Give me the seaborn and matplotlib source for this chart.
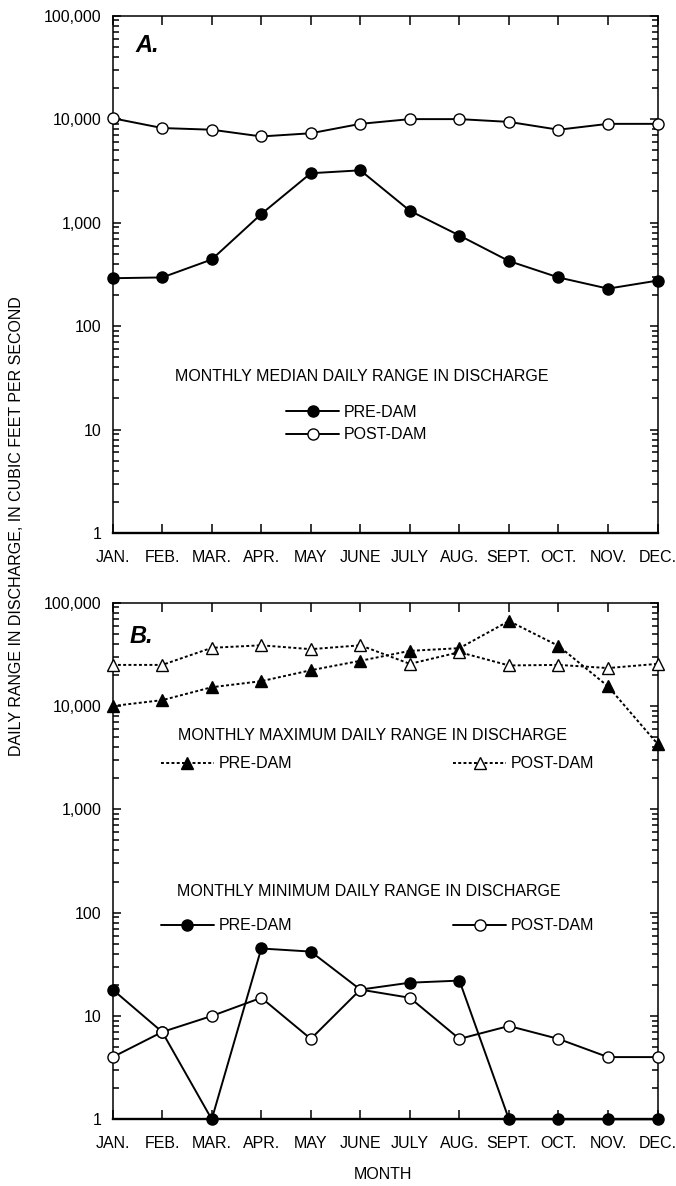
import matplotlib
matplotlib.use("Agg")
import matplotlib.pyplot as plt
import seaborn as sns
import pandas as pd

# Monthly values (cubic feet per second)
months = ["JAN.", "FEB.", "MAR.", "APR.", "MAY", "JUNE", "JULY", "AUG.",
          "SEPT.", "OCT.", "NOV.", "DEC."]
median_pre = [290, 295, 440, 1210, 3000, 3200, 1300, 750, 425, 295, 230, 275]
median_post = [10200, 8200, 7900, 6800, 7300, 9000, 10000, 10000, 9400, 7900, 9000, 9000]
max_pre = [10000, 11400, 15200, 17400, 22200, 27400, 34200, 36300, 66500, 38200, 15500, 4300]
max_post = [25000, 25000, 36600, 38700, 35500, 38700, 25600, 33200, 24700, 25000, 23300, 25600]
min_pre = [18, 7, 1, 45, 42, 18, 21, 22, 1, 1, 1, 1]
min_post = [4, 7, 10, 15, 6, 18, 15, 6, 8, 6, 4, 4]

ytick_vals = [1, 10, 100, 1000, 10000, 100000]
ytick_labels = ["1", "10", "100", "1,000", "10,000", "100,000"]

sns.set_style("ticks")
plt.rcParams["font.family"] = ["Liberation Sans", "DejaVu Sans"]
plt.rcParams["font.size"] = 11.5
for key in ["text.color", "axes.edgecolor", "axes.labelcolor",
            "xtick.color", "ytick.color"]:
    plt.rcParams[key] = "black"

fig = plt.figure(figsize=(6.76, 11.86), dpi=100)
ax_a = fig.add_axes([0.1667, 0.5506, 0.806, 0.4362])
ax_b = fig.add_axes([0.1667, 0.05624, 0.806, 0.43558])

dotted = (0, (1.5, 1.2))


def series(ax, values, marker, filled, ls="-", ms=8):
    df = pd.DataFrame({"month": months, "value": values})
    sns.lineplot(data=df, x="month", y="value", ax=ax, color="black",
                 linestyle=ls, linewidth=1.4, marker=marker, markersize=ms,
                 markerfacecolor="black" if filled else "white",
                 markeredgecolor="black", markeredgewidth=1.0,
                 clip_on=False, legend=False, zorder=3)
    return ax.lines[-1]


def style_axis(ax):
    ax.set_yscale("log")
    ax.set_ylim(1, 100000)
    ax.set_xlim(0, 11)
    ax.set_xticks(range(12))
    ax.set_xticklabels(months)
    ax.set_yticks(ytick_vals)
    ax.set_yticklabels(ytick_labels)
    ax.set_xlabel("")
    ax.set_ylabel("")
    ax.tick_params(axis="x", which="major", direction="in", length=6.5, width=1.1,
                   top=True, bottom=True, pad=12, labelsize=11.5)
    ax.tick_params(axis="y", which="major", direction="in", length=5.5, width=1.1,
                   left=True, right=True, pad=8, labelsize=11.5)
    ax.tick_params(axis="y", which="minor", direction="in", length=4.5, width=1.1,
                   left=True, right=True)
    ax.tick_params(axis="x", which="minor", bottom=False, top=False)
    for side in ["left", "right", "top"]:
        ax.spines[side].set_visible(True)
        ax.spines[side].set_linewidth(1.1)
    ax.spines["bottom"].set_linewidth(1.7)


# Panel A
pre_a = series(ax_a, median_pre, "o", True)
post_a = series(ax_a, median_post, "o", False)
style_axis(ax_a)
ax_a.text(0.041, 0.9424, "A.", transform=ax_a.transAxes, fontsize=17,
          fontweight="bold", fontstyle="italic", va="center", ha="left")
ax_a.text(0.4576, 0.3021, "MONTHLY MEDIAN DAILY RANGE IN DISCHARGE",
          transform=ax_a.transAxes, ha="center", va="center")
ax_a.legend([pre_a, post_a], ["PRE-DAM", "POST-DAM"], loc="center left",
            bbox_to_anchor=(0.3187, 0.2113), frameon=False, handlelength=3.3,
            handletextpad=0.3, labelspacing=0.45, borderpad=0, borderaxespad=0)

# Panel B
max_pre_l = series(ax_b, max_pre, "^", True, ls=dotted, ms=8)
max_post_l = series(ax_b, max_post, "^", False, ls=dotted, ms=8)
min_pre_l = series(ax_b, min_pre, "o", True)
min_post_l = series(ax_b, min_post, "o", False)
style_axis(ax_b)
ax_b.text(0.031, 0.9355, "B.", transform=ax_b.transAxes, fontsize=17,
          fontweight="bold", fontstyle="italic", va="center", ha="left")
ax_b.text(0.4769, 0.742, "MONTHLY MAXIMUM DAILY RANGE IN DISCHARGE",
          transform=ax_b.transAxes, ha="center", va="center")
leg_max = ax_b.legend([max_pre_l, max_post_l], ["PRE-DAM", "POST-DAM"],
                      loc="center left", bbox_to_anchor=(0.0887, 0.6878),
                      ncol=2, columnspacing=10.1, frameon=False, handlelength=3.3,
                      handletextpad=0.3, borderpad=0, borderaxespad=0)
ax_b.add_artist(leg_max)
ax_b.text(0.4704, 0.4406, "MONTHLY MINIMUM DAILY RANGE IN DISCHARGE",
          transform=ax_b.transAxes, ha="center", va="center")
ax_b.legend([min_pre_l, min_post_l], ["PRE-DAM", "POST-DAM"],
            loc="center left", bbox_to_anchor=(0.0887, 0.3748),
            ncol=2, columnspacing=10.1, frameon=False, handlelength=3.3,
            handletextpad=0.3, borderpad=0, borderaxespad=0)

fig.text(0.025, 0.5565, "DAILY RANGE IN DISCHARGE, IN CUBIC FEET PER SECOND",
         rotation=90, ha="center", va="center", fontsize=11.5)
fig.text(0.5666, 0.0093, "MONTH", ha="center", va="center", fontsize=11.5)

fig.savefig("out.png", dpi=100)
